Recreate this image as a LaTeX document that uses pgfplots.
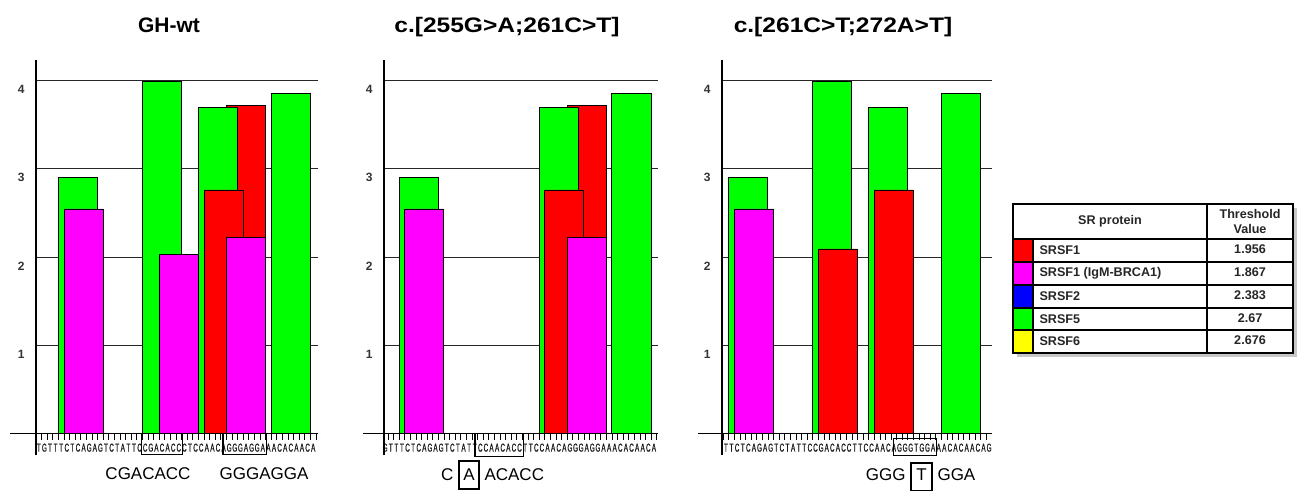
\documentclass[border=0pt]{standalone}
\usepackage{fontspec}
\setmainfont{Liberation Sans}
\newfontfamily\seqfont[FakeStretch=0.55, FakeBold=0.6]{Liberation Sans}
\usepackage{pgfplots}
\pgfplotsset{compat=1.18}
\definecolor{sgreen}{RGB}{0,255,0}
\definecolor{smag}{RGB}{255,0,255}
\definecolor{sred}{RGB}{255,0,0}
\definecolor{sblue}{RGB}{0,0,255}
\definecolor{syellow}{RGB}{255,255,0}
\pgfplotsset{
  esebar/.style={draw=black, line width=0.9pt, line join=miter},
  esepanel/.style={
    scale only axis, height=373.9pt, ymin=0, ymax=4.234,
    clip=false, axis line style={draw=none}, no markers,
    ytick={1,2,3,4}, yticklabels={1,2,3,4},
    ymajorgrids, grid style={black!85, line width=1pt},
    major tick length=0pt, tick pos=left,
    yticklabel style={font=\fontsize{12}{12}\selectfont\bfseries, text=black!80, anchor=north east, xshift=-8pt, yshift=-1pt},
    xticklabel style={font=\seqfont\fontsize{11.5}{11.5}\selectfont, text=black!90, anchor=north, inner sep=0pt, yshift=-9.5pt},
    extra x tick labels={},
    extra x tick style={major tick length=6pt, tick align=outside, tick style={black, line width=0.8pt}},
  }
}
\begin{document}
\begin{tikzpicture}
\useasboundingbox (0,0) rectangle (1302pt,491pt);

% ---------- Panel 1: GH-wt ----------
\begin{axis}[esepanel, at={(36pt,57.1pt)}, anchor=south west, width=282pt,
  xmin=0, xmax=50.357,
  xtick={0.5,1.5,...,49.5},
  xticklabels={T,G,T,T,T,C,T,C,A,G,A,G,T,C,T,A,T,T,C,C,G,A,C,A,C,C,C,T,C,C,A,A,C,A,G,G,G,A,G,G,A,A,A,C,A,C,A,A,C,A},
  extra x ticks={0,1,...,50}]
\addplot[esebar, fill=sgreen] coordinates {(4,0) (4,2.906) (11,2.906) (11,0)} \closedcycle;
\addplot[esebar, fill=smag] coordinates {(5,0) (5,2.547) (12,2.547) (12,0)} \closedcycle;
\addplot[esebar, fill=sgreen] coordinates {(19,0) (19,3.989) (26,3.989) (26,0)} \closedcycle;
\addplot[esebar, fill=smag] coordinates {(22,0) (22,2.037) (29,2.037) (29,0)} \closedcycle;
\addplot[esebar, fill=sred] coordinates {(34,0) (34,3.717) (41,3.717) (41,0)} \closedcycle;
\addplot[esebar, fill=sgreen] coordinates {(29,0) (29,3.694) (36,3.694) (36,0)} \closedcycle;
\addplot[esebar, fill=sred] coordinates {(30,0) (30,2.762) (37,2.762) (37,0)} \closedcycle;
\addplot[esebar, fill=smag] coordinates {(34,0) (34,2.222) (41,2.222) (41,0)} \closedcycle;
\addplot[esebar, fill=sgreen] coordinates {(42,0) (42,3.857) (49,3.857) (49,0)} \closedcycle;
\draw[line width=1.1pt] (axis cs:0,4.234) -- (axis cs:0,-0.24);
\draw[line width=1.1pt] (axis cs:-4.64,0) -- (axis cs:50.357,0);
\draw[line width=1.1pt] (axis cs:18.9,0) rectangle (axis cs:26.2,-0.232);
\draw[line width=1.1pt] (axis cs:33.4,0) rectangle (axis cs:41.2,-0.232);
\end{axis}

% ---------- Panel 2: c.[255G>A;261C>T] ----------
\begin{axis}[esepanel, at={(384pt,57.1pt)}, anchor=south west, width=274pt,
  xmin=1.3, xmax=50.23,
  xtick={1.5,2.5,...,49.5},
  xticklabels={G,T,T,T,C,T,C,A,G,A,G,T,C,T,A,T,T,C,C,A,A,C,A,C,C,T,T,C,C,A,A,C,A,G,G,G,A,G,G,A,A,A,C,A,C,A,A,C,A},
  extra x ticks={2,3,...,50}]
\addplot[esebar, fill=sgreen] coordinates {(4,0) (4,2.906) (11,2.906) (11,0)} \closedcycle;
\addplot[esebar, fill=smag] coordinates {(5,0) (5,2.547) (12,2.547) (12,0)} \closedcycle;
\addplot[esebar, fill=sred] coordinates {(34,0) (34,3.717) (41,3.717) (41,0)} \closedcycle;
\addplot[esebar, fill=sgreen] coordinates {(29,0) (29,3.694) (36,3.694) (36,0)} \closedcycle;
\addplot[esebar, fill=sred] coordinates {(30,0) (30,2.762) (37,2.762) (37,0)} \closedcycle;
\addplot[esebar, fill=smag] coordinates {(34,0) (34,2.222) (41,2.222) (41,0)} \closedcycle;
\addplot[esebar, fill=sgreen] coordinates {(42,0) (42,3.857) (49,3.857) (49,0)} \closedcycle;
\draw[line width=1.1pt] (axis cs:1.3,4.234) -- (axis cs:1.3,-0.24);
\draw[line width=1.1pt] (axis cs:-2.45,0) -- (axis cs:50.23,0);
\draw[line width=1.1pt] (axis cs:17.55,0) rectangle (axis cs:26.2,-0.26);
\end{axis}

% ---------- Panel 3: c.[261C>T;272A>T] ----------
\begin{axis}[esepanel, at={(722pt,57.1pt)}, anchor=south west, width=269.6pt,
  xmin=2.8, xmax=50.95,
  xtick={3.5,4.5,...,50.5},
  xticklabels={T,T,C,T,C,A,G,A,G,T,C,T,A,T,T,C,C,G,A,C,A,C,C,T,T,C,C,A,A,C,A,G,G,G,T,G,G,A,A,A,C,A,C,A,A,C,A,G},
  extra x ticks={3,4,...,50}]
\addplot[esebar, fill=sgreen] coordinates {(4,0) (4,2.906) (11,2.906) (11,0)} \closedcycle;
\addplot[esebar, fill=smag] coordinates {(5,0) (5,2.547) (12,2.547) (12,0)} \closedcycle;
\addplot[esebar, fill=sgreen] coordinates {(19,0) (19,3.989) (26,3.989) (26,0)} \closedcycle;
\addplot[esebar, fill=sred] coordinates {(20,0) (20,2.094) (27,2.094) (27,0)} \closedcycle;
\addplot[esebar, fill=sgreen] coordinates {(29,0) (29,3.694) (36,3.694) (36,0)} \closedcycle;
\addplot[esebar, fill=sred] coordinates {(30,0) (30,2.762) (37,2.762) (37,0)} \closedcycle;
\addplot[esebar, fill=sgreen] coordinates {(42,0) (42,3.857) (49,3.857) (49,0)} \closedcycle;
\draw[line width=1.1pt] (axis cs:2.8,4.234) -- (axis cs:2.8,-0.24);
\draw[line width=1.1pt] (axis cs:-1.49,0) -- (axis cs:50.95,0);
\draw[line width=1.1pt] (axis cs:33.5,-0.05) rectangle (axis cs:41.14,-0.24);
\end{axis}

\begin{scope}[x=1pt,y=1pt]
% titles
\node[anchor=base, font=\fontsize{21}{21}\selectfont\bfseries] at (169,458) {GH-wt};
\node[anchor=base, font=\fontsize{21}{21}\selectfont\bfseries] at (507,458) {\scalebox{1.17}[1]{c.[255G>A;261C>T]}};
\node[anchor=base, font=\fontsize{21}{21}\selectfont\bfseries] at (843,458) {\scalebox{1.17}[1]{c.[261C>T;272A>T]}};
% sequence annotations
\node[anchor=base, font=\fontsize{17}{17}\selectfont] at (148,12) {CGACACC};
\node[anchor=base, font=\fontsize{17}{17}\selectfont] at (264,12) {GGGAGGA};
\node[anchor=base east, font=\fontsize{17}{17}\selectfont] at (457,11) {C};
\node[anchor=base, font=\fontsize{17}{17}\selectfont] at (469,11) {A};
\node[anchor=base west, font=\fontsize{17}{17}\selectfont] at (481,11) {ACACC};
\draw[line width=1.1pt] (459,2) rectangle (479,30);
\node[anchor=base east, font=\fontsize{17}{17}\selectfont] at (909,11) {GGG};
\node[anchor=base, font=\fontsize{17}{17}\selectfont] at (921.5,11) {T};
\node[anchor=base west, font=\fontsize{17}{17}\selectfont] at (934,11) {GGA};
\draw[line width=1.1pt] (911,0.6) rectangle (932,28);
% legend table
\fill[black!22] (1017,134) rectangle (1297,283);
\fill[white] (1013,138) rectangle (1293,287);
\fill[sred] (1013,229) rectangle (1033,252);
\fill[smag] (1013,206) rectangle (1033,229);
\fill[sblue] (1013,183) rectangle (1033,206);
\fill[sgreen] (1013,161) rectangle (1033,183);
\fill[syellow] (1013,138) rectangle (1033,161);
\draw[line width=1.2pt] (1013,138) rectangle (1293,287);
\foreach \yy in {252,229,206,183,161} \draw[line width=1.1pt] (1013,\yy) -- (1293,\yy);
\draw[line width=1.1pt] (1207,138) -- (1207,287);
\draw[line width=1.1pt] (1033,138) -- (1033,252);
\begin{scope}[every node/.style={font=\fontsize{12.6}{15}\selectfont\bfseries, text=black!85}]
\node at (1110,269.5) {SR protein};
\node[align=center] at (1250,270) {Threshold\\Value};
\node[anchor=west] at (1036,240.5) {SRSF1};
\node[anchor=west] at (1036,217.5) {SRSF1 (IgM-BRCA1)};
\node[anchor=west] at (1036,194.5) {SRSF2};
\node[anchor=west] at (1036,172) {SRSF5};
\node[anchor=west] at (1036,149.5) {SRSF6};
\node at (1250,241.5) {1.956};
\node at (1250,218.5) {1.867};
\node at (1250,195.5) {2.383};
\node at (1250,173) {2.67};
\node at (1250,150.5) {2.676};
\end{scope}
\end{scope}
\end{tikzpicture}
\end{document}
